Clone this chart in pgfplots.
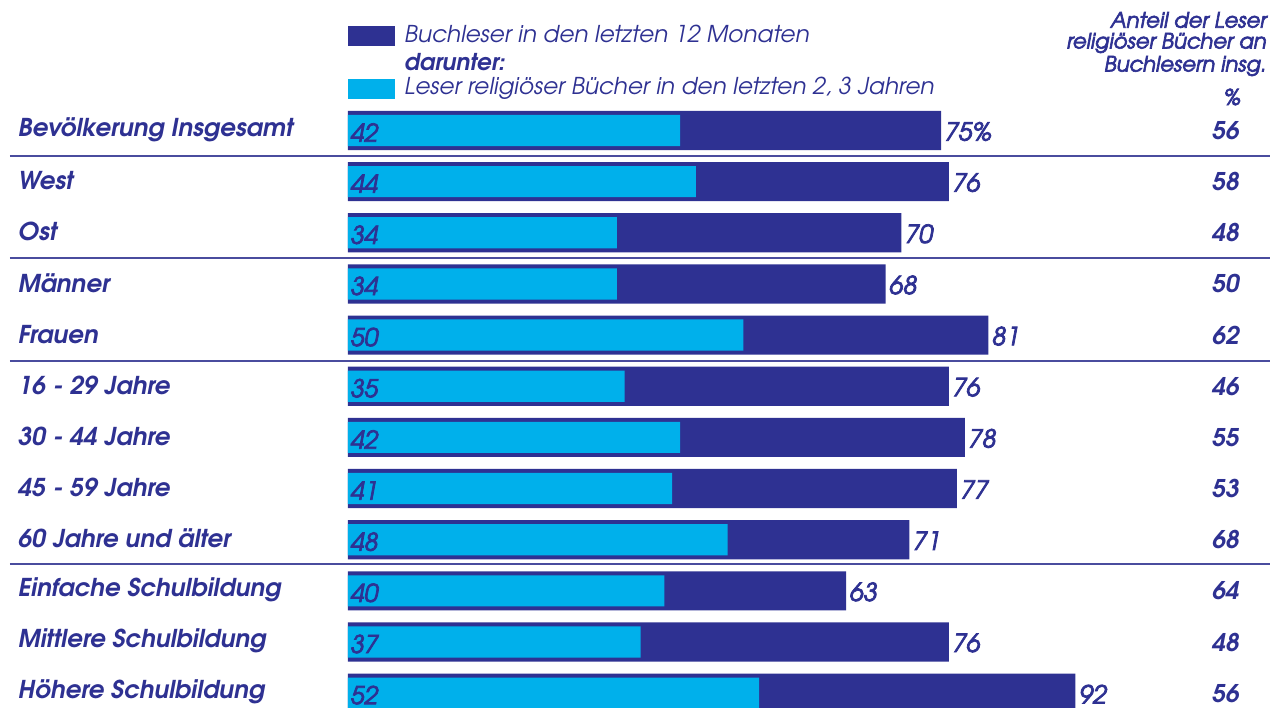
\documentclass[border=0pt]{standalone}
\usepackage{pgfplots}
\pgfplotsset{compat=1.18}
\usepackage{pgfplotstable}
\usepackage{fontspec}
\setmainfont{texgyreadventor}[Extension=.otf, UprightFont=*-regular, BoldFont=*-bold, ItalicFont=*-italic, BoldItalicFont=*-bolditalic]
\newfontfamily\medit{texgyreadventor}[Extension=.otf, UprightFont=*-italic, FakeBold=3]
\definecolor{navy}{HTML}{2E3192}
\definecolor{cyanb}{HTML}{00B0EB}
\definecolor{sep}{HTML}{4A4C9E}

\pgfplotstableread[col sep=comma]{
row,cat,total,rel,share,tlab
0,Bevölkerung Insgesamt,75,42,56,75\%
1,West,76,44,58,76
2,Ost,70,34,48,70
3,Männer,68,34,50,68
4,Frauen,81,50,62,81
5,16 - 29 Jahre,76,35,46,76
6,30 - 44 Jahre,78,42,55,78
7,45 - 59 Jahre,77,41,53,77
8,60 Jahre und älter,71,48,68,71
9,Einfache Schulbildung,63,40,64,63
10,Mittlere Schulbildung,76,37,48,76
11,Höhere Schulbildung,92,52,56,92
}\data

\begin{document}
\begin{tikzpicture}
\begin{axis}[
  scale only axis, width=636pt, height=353.5pt,
  hide axis,
  xmin=-44.01, xmax=116.86,
  ymin=-2.551, ymax=11.271,
  y dir=reverse,
]
% total bars
\addplot[xbar, bar shift=0pt, bar width=0.765, fill=navy, draw=none]
  table[x=total, y=row] {\data};
% religious readers bars
\addplot[xbar, bar shift=0pt, bar width=0.61, fill=cyanb, draw=none]
  table[x=rel, y=row] {\data};
% values at end of total bars
\addplot[only marks, mark=none, nodes near coords, point meta=explicit symbolic,
  nodes near coords style={anchor=west, inner sep=0pt, xshift=1.5pt, yshift=-0.5pt, font=\fontsize{12.5}{14}\medit, text=navy}]
  table[x=total, y=row, meta=tlab] {\data};
% values inside cyan bars
\addplot[only marks, mark=none, nodes near coords, point meta=explicit symbolic,
  nodes near coords style={anchor=center, yshift=-1pt, font=\fontsize{12.3}{14}\medit, text=navy}]
  table[x expr=2.05, y=row, meta=rel] {\data};
% right column shares
\addplot[only marks, mark=none, nodes near coords, point meta=explicit symbolic,
  nodes near coords style={anchor=center, font=\fontsize{12.2}{14}\selectfont\bfseries\itshape, text=navy}]
  table[x expr=111.0, y=row, meta=share] {\data};
% category names
\addplot[only marks, mark=none, nodes near coords, point meta=explicit symbolic,
  nodes near coords style={anchor=west, inner sep=0pt, yshift=0.5pt, font=\fontsize{12.3}{14}\selectfont\bfseries\itshape, text=navy}]
  table[x expr=-41.77, y=row, meta=cat] {\data};

% separators
\foreach \yy in {0.498,2.493,4.506,8.475}{
  \edef\tmp{\noexpand\draw[sep, line width=1pt] (axis cs:-42.75,\yy) -- (axis cs:116.6,\yy);}\tmp
}
% legend
\fill[navy] (axis cs:0,-2.043) rectangle (axis cs:5.94,-1.652);
\fill[cyanb] (axis cs:0,-1.007) rectangle (axis cs:5.94,-0.616);
\node[anchor=west, inner sep=0pt, text=navy, font=\fontsize{11.6}{13}\selectfont\itshape] at (axis cs:7.08,-1.887) {Buchleser in den letzten 12 Monaten};
\node[anchor=west, inner sep=0pt, text=navy, font=\fontsize{11.6}{13}\selectfont\bfseries\itshape] at (axis cs:7.08,-1.339) {darunter:};
\node[anchor=west, inner sep=0pt, text=navy, font=\fontsize{11.6}{13}\selectfont\itshape] at (axis cs:7.08,-0.831) {Leser religiöser Bücher in den letzten 2, 3 Jahren};
% right header
\node[anchor=east, inner sep=0pt, text=navy, font=\fontsize{10.6}{12}\medit] at (axis cs:116.2,-2.160) {Anteil der Leser};
\node[anchor=east, inner sep=0pt, text=navy, font=\fontsize{10.6}{12}\medit] at (axis cs:116.2,-1.711) {religiöser Bücher an};
\node[anchor=east, inner sep=0pt, text=navy, font=\fontsize{10.6}{12}\medit] at (axis cs:116.2,-1.261) {Buchlesern insg.};
\node[anchor=center, inner sep=0pt, text=navy, font=\fontsize{11}{12}\medit] at (axis cs:111.8,-0.655) {\%};
\end{axis}
\pgfresetboundingbox
\path[use as bounding box] (current axis.south west) rectangle (current axis.north east);
\end{tikzpicture}
\end{document}
